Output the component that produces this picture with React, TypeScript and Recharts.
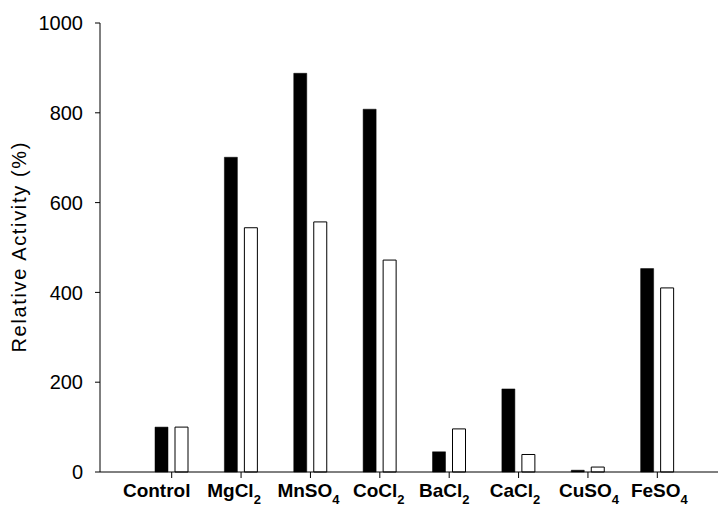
import React from "react";
import { BarChart, Bar, XAxis, YAxis } from "recharts";

// Metal ions tested (digits are drawn as subscripts)
const ions = ["Control", "MgCl2", "MnSO4", "CoCl2", "BaCl2", "CaCl2", "CuSO4", "FeSO4"];
// Relative activity (%) for the two conditions
const filledSeries = [100, 701, 888, 808, 45, 185, 4, 453];
const openSeries = [100, 544, 557, 472, 96, 39, 11, 410];
const yTicks = [0, 200, 400, 600, 800, 1000];

const data = ions.map((ion, i) => ({
  ion,
  filled: filledSeries[i],
  open: openSeries[i],
}));

const FONT = "'Liberation Sans', Arial, Helvetica, sans-serif";

// Horizontal nudges so neighbouring labels do not crowd each other
const labelNudge: Record<string, number> = {
  Control: -15,
  MgCl2: -7,
  MnSO4: -2,
  CoCl2: -1,
  BaCl2: -5,
  CaCl2: -3.5,
  CuSO4: 1,
  FeSO4: 2,
};

// Split a formula into normal text and subscript digit runs
function splitFormula(label: string) {
  const parts: { text: string; sub: boolean }[] = [];
  const re = /(\d+)|(\D+)/g;
  let m: RegExpExecArray | null;
  while ((m = re.exec(label)) !== null) {
    if (m[1]) parts.push({ text: m[1], sub: true });
    else parts.push({ text: m[2], sub: false });
  }
  return parts;
}

const IonTick = (props: any) => {
  const { x, y, payload } = props;
  const label = String(payload.value);
  const parts = splitFormula(label);
  const nudge = labelNudge[label] ?? 0;
  return (
    <g>
      <text
        x={x + nudge}
        y={y + 17}
        textAnchor="middle"
        style={{ fontFamily: FONT, fontWeight: 700, fontSize: 19, fill: "#000" }}
      >
        {parts.map((p, i) =>
          p.sub ? (
            <tspan key={i} dy={7} style={{ fontSize: 13 }}>
              {p.text}
            </tspan>
          ) : (
            <tspan key={i} dy={i > 0 && parts[i - 1].sub ? -7 : 0} style={{ fontSize: 19 }}>
              {p.text}
            </tspan>
          )
        )}
      </text>
    </g>
  );
};

const YTitle = (props: any) => {
  const vb = props.viewBox || {};
  const cx = 18.5;
  const cy = (vb.y ?? 23) + (vb.height ?? 449) / 2;
  return (
    <text
      x={cx}
      y={cy}
      transform={`rotate(-90, ${cx}, ${cy})`}
      textAnchor="middle"
      dominantBaseline="central"
      textLength={210}
      lengthAdjust="spacing"
      style={{ fontFamily: FONT, fontSize: 20, fill: "#000" }}
    >
      Relative Activity (%)
    </text>
  );
};

export default function App() {
  return (
    <div style={{ position: "absolute", left: 0, top: 0, width: 718, height: 507, background: "#fff" }}>
      <BarChart
        width={718}
        height={507}
        data={data}
        margin={{ top: 23, right: 0, bottom: 0, left: 0 }}
        barSize={13}
        barGap={7}
      >
        <XAxis
          dataKey="ion"
          height={35}
          padding={{ left: 37, right: 26 }}
          axisLine={{ stroke: "#000", strokeWidth: 1 }}
          tickLine={{ stroke: "#000", strokeWidth: 1 }}
          tickSize={6}
          interval={0}
          tick={<IonTick />}
        />
        <YAxis
          width={100}
          domain={[0, 1000]}
          ticks={yTicks}
          interval={0}
          axisLine={{ stroke: "#000", strokeWidth: 1 }}
          tickLine={{ stroke: "#000", strokeWidth: 1 }}
          tickSize={5}
          tickMargin={12}
          tick={{ fill: "#000", fontSize: 20, fontFamily: FONT }}
          label={<YTitle />}
        />
        <Bar dataKey="filled" fill="#000" stroke="#000" strokeWidth={0.5} isAnimationActive={false} />
        <Bar dataKey="open" fill="#fff" stroke="#000" strokeWidth={1} isAnimationActive={false} />
      </BarChart>
    </div>
  );
}
